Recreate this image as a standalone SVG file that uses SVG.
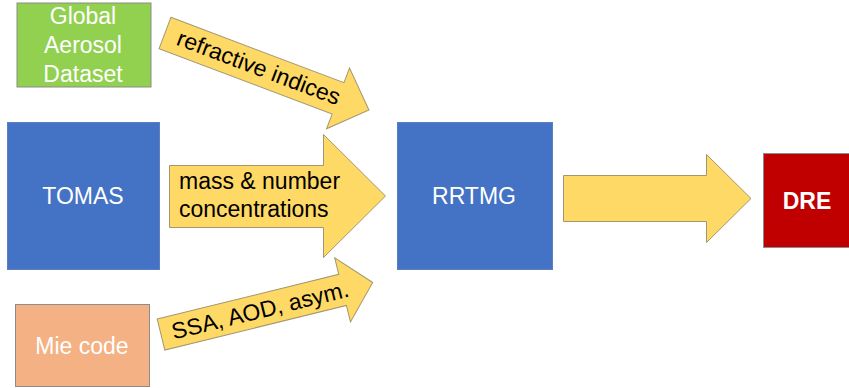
<svg xmlns="http://www.w3.org/2000/svg" width="849" height="388" viewBox="0 0 849 388">
<style>
.blue{fill:#4472C4;stroke:#5B7FC0}
.lbl{font-family:"Liberation Sans",Arial,sans-serif;font-size:23px;fill:#FFFFFF;text-anchor:middle}
.arr{fill:#FFD966;stroke:#A39770;stroke-width:1}
.at{font-family:"Liberation Sans",Arial,sans-serif;font-size:23px;fill:#000000}
</style>
<rect width="849" height="388" fill="#FFFFFF"/>
<g id="global-aerosol-dataset">
<rect x="17" y="3" width="134" height="84" fill="#92D050" stroke="#8C8C8C"/>
<text class="lbl" x="83" y="24">Global</text>
<text class="lbl" x="83" y="53">Aerosol</text>
<text class="lbl" x="83" y="82">Dataset</text>
</g>
<g id="tomas">
<rect class="blue" x="7.5" y="122.5" width="152" height="147"/>
<text class="lbl" x="83" y="204">TOMAS</text>
</g>
<g id="mie-code">
<rect x="15.5" y="304.5" width="134" height="82" fill="#F4B183" stroke="#8C8C8C"/>
<text class="lbl" x="82" y="354">Mie code</text>
</g>
<g id="rrtmg">
<rect class="blue" x="397.5" y="122.5" width="155" height="147"/>
<text class="lbl" x="474" y="204">RRTMG</text>
</g>
<g id="dre">
<rect x="763.5" y="153.5" width="90" height="94" fill="#C00000" stroke="#8C8C8C"/>
<text class="lbl" x="807" y="209" font-weight="bold" font-size="23">DRE</text>
</g>
<g id="connectors">
<g transform="translate(165,33) rotate(20.7)">
<path class="arr" d="M0,-16.75 L185,-16.75 L185,-32.5 L218,0 L185,32.5 L185,16.75 L0,16.75 Z"/>
<text class="at" x="100" y="7" text-anchor="middle">refractive indices</text>
</g>
<path class="arr" d="M169.5,165.5 L323.5,165.5 L323.5,134.5 L385.5,196 L323.5,257.5 L323.5,227.5 L169.5,227.5 Z"/>
<text class="at" x="179" y="189" font-size="24">mass &amp; number</text>
<text class="at" x="179" y="217" font-size="24">concentrations</text>
<g transform="translate(161,334.5) rotate(-13.8)">
<path class="arr" d="M0,-16 L187,-16 L187,-33 L218,0 L187,33 L187,16 L0,16 Z"/>
<text class="at" x="102" y="8" text-anchor="middle">SSA, AOD, asym.</text>
</g>
<path class="arr" d="M563.5,175.5 L706.5,175.5 L706.5,154.5 L751,198.5 L706.5,242.5 L706.5,221.5 L563.5,221.5 Z"/>
</g>
</svg>
